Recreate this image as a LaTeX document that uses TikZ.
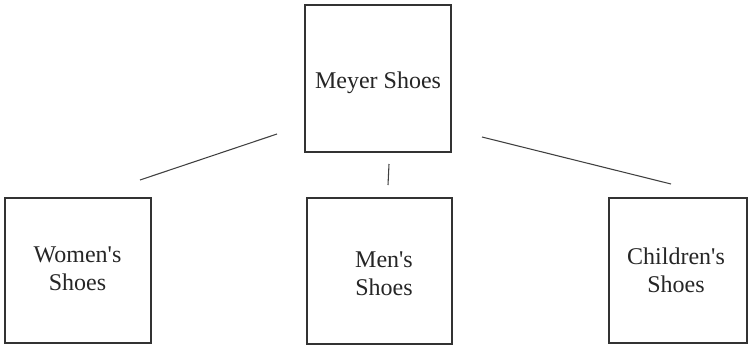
\documentclass[tikz,border=0pt]{standalone}
\usepackage{fontspec}
% straight apostrophes: switch off the TeX input mapping
\setmainfont{Liberation Serif}[Ligatures=TeXOff]
\begin{document}
\begin{tikzpicture}[x=0.75pt,y=-0.75pt,
  box/.style={draw=black!80,line width=0.9pt,fill=white,inner sep=0pt},
  lbl/.style={font=\fontsize{18}{21}\selectfont,align=center,text=black!85},
  link/.style={draw=black!75,line width=0.8pt}]
\useasboundingbox (0,0) rectangle (749,347);
% boxes
\node[box,minimum width=146*0.75pt,minimum height=147*0.75pt] (top) at (378,78.5) {};
\node[box,minimum width=146*0.75pt,minimum height=145*0.75pt] (women) at (78,270.5) {};
\node[box,minimum width=145*0.75pt,minimum height=146*0.75pt] (men) at (379.5,271) {};
\node[box,minimum width=138*0.75pt,minimum height=145*0.75pt] (children) at (678,270.5) {};
% labels
\node[lbl] (topl) at (378,83) {Meyer Shoes};
\node[lbl] (womenl) at (77.5,269) {Women's\\Shoes};
\node[lbl] (menl) at (384,274) {Men's\\Shoes};
\node[lbl] (childrenl) at (676,270) {Children's\\Shoes};
% connector ends
\coordinate (la) at (277,134);
\coordinate (lb) at (140,180);
\coordinate (ma) at (389,164);
\coordinate (mb) at (388,185);
\coordinate (ra) at (482,137);
\coordinate (rb) at (671,184);
\draw[link] (la) -- (lb);
\draw[link] (ma) -- (mb);
\draw[link] (ra) -- (rb);
\end{tikzpicture}
\end{document}
